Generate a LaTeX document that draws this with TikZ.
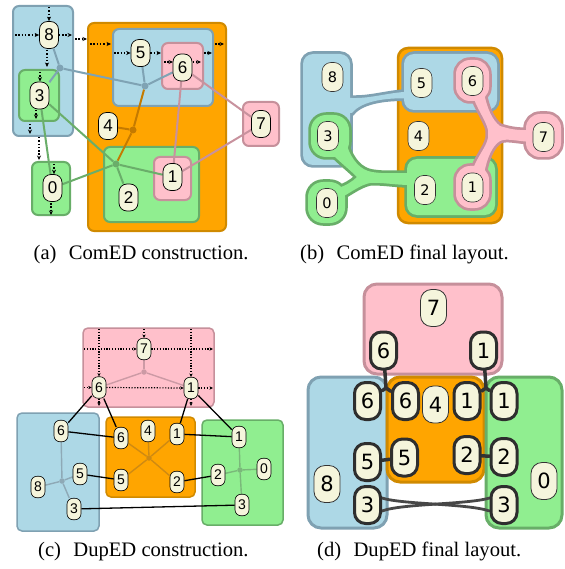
\documentclass[tikz,border=0pt]{standalone}
\usepackage{fontspec}
\setmainfont{Liberation Serif}
\newfontfamily\labelsans{Liberation Sans}
\newfontfamily\labeldeja{DejaVu Sans}
\usetikzlibrary{arrows.meta}
\pgfdeclarelayer{boxes}
\pgfdeclarelayer{links}
\pgfsetlayers{boxes,links,main}

\definecolor{nodefill}{HTML}{F5F5DC}
\definecolor{cBlue}{HTML}{ADD8E6}
\definecolor{cBlueS}{HTML}{7FA1B2}
\definecolor{cGreen}{HTML}{90EE90}
\definecolor{cGreenS}{HTML}{68AE68}
\definecolor{cPink}{HTML}{FFC0CB}
\definecolor{cPinkS}{HTML}{C6909B}
\definecolor{cOrange}{HTML}{FFA500}
\definecolor{cOrangeS}{HTML}{D08A00}
\definecolor{eBlue}{HTML}{7FA3B4}
\definecolor{eGreen}{HTML}{6AAE6A}
\definecolor{eOrange}{HTML}{C47A00}
\definecolor{ePink}{HTML}{C8929E}
\definecolor{eBlueC}{HTML}{8EA9B6}
\definecolor{eGreenC}{HTML}{7AB87A}
\definecolor{eOrangeC}{HTML}{CF8A12}
\definecolor{ePinkC}{HTML}{CC9AA5}

% (b): outlines of a group are drawn first, then the fills, so touching shapes merge
\newcommand\shapesBlue[1]{%
  \path[#1, rounded corners=10pt] (303,54) rectangle (350,165);
  \path[#1, rounded corners=10pt] (404,54) rectangle (497,110);
  \path[#1] (345,98) -- (352,98) .. controls (372,98.5) and (385,93) .. (410,91.5)
     -- (410,98.5) .. controls (390,97.5) and (362,100) .. (352,113) -- (345,113) -- cycle;
}
\newcommand\shapesGreen[1]{%
  \path[#1, rounded corners=10pt] (407,159) rectangle (495,215);
  \path[#1, rounded corners=15pt] (311,115) rectangle (349,157);
  \path[#1, rounded corners=15pt] (308,182) rectangle (345,223);
  \path[#1] (345,140) -- (347,146) .. controls (352,160) and (360,170) .. (372,172)
     .. controls (385,174) and (395,173) .. (410,173) -- (410,185)
     .. controls (395,185) and (380,182) .. (370,183)
     .. controls (360,185) and (350,193) .. (342,197) -- (338,188)
     .. controls (345,186) and (352,182) .. (357,177)
     .. controls (350,170) and (340,162) .. (333,155) -- cycle;
}
\newcommand\shapesPink[1]{%
  \path[#1, rounded corners=14pt] (456,60) rectangle (489,101);
  \path[#1, rounded corners=14pt] (456,166) rectangle (489,208);
  \path[#1, rounded corners=14pt] (526,114) rectangle (561,157);
  \path[#1] (472,93) .. controls (476,108) and (486,120) .. (488,130) -- (488,138)
     .. controls (486,148) and (476,158) .. (472,172) -- (484,174)
     .. controls (487,158) and (492,146) .. (500,141)
     .. controls (507,138) and (515,141) .. (532,142) -- (532,130)
     .. controls (515,131) and (507,128) .. (500,126)
     .. controls (492,120) and (487,108) .. (484,93) -- cycle;
}

\begin{document}
\begin{tikzpicture}[x=1pt,y=-1pt,line join=round,
  vtx/.style={draw=black, line width=0.7pt, fill=nodefill, inner sep=0pt},
  vA/.style={vtx, minimum width=19pt, minimum height=27pt, rounded corners=8pt, font=\labelsans\fontsize{17}{17}\selectfont},
  vB/.style={vtx, draw=black!80, line width=0.6pt, minimum width=21pt, minimum height=29pt, rounded corners=9pt, font=\labeldeja\fontsize{14.5}{14.5}\selectfont},
  vC/.style={vtx, line width=0.6pt, minimum width=14pt, minimum height=21.5pt, rounded corners=6pt, font=\labelsans\fontsize{14}{14}\selectfont},
  vD/.style={vtx, draw=black!80, line width=0.8pt, minimum width=26pt, minimum height=37pt, rounded corners=11pt, font=\labeldeja\fontsize{21}{21}\selectfont},
  hl/.style={draw=black!82, line width=3pt},
  boxA/.style={line width=2pt, rounded corners=6pt},
  boxC/.style={line width=1.5pt, rounded corners=5pt},
  boxD/.style={line width=3pt, rounded corners=13pt},
  ordA/.style={line width=1.5pt, dash pattern=on 1.5pt off 1.8pt, -{Stealth[length=4.5pt,width=4pt]}},
  ordC/.style={line width=1.2pt, dash pattern=on 1.2pt off 1.6pt, -{Stealth[length=3.5pt,width=3.2pt]}},
  linkA/.style={line width=2pt},
  linkC/.style={line width=1.4pt},
  junc/.style={circle, inner sep=0pt, minimum size=7pt},
  juncC/.style={circle, inner sep=0pt, minimum size=5.5pt},
  dup/.style={line width=1.3pt, draw=black},
  bridgeD/.style={line width=3.5pt, draw=black!80, line cap=round},
  capt/.style={font=\fontsize{20.6}{20.6}\selectfont, inner sep=0pt, anchor=base west},
]
\useasboundingbox (0,0) rectangle (564,569);
\begin{pgfonlayer}{boxes}
  \fill[white] (0,0) rectangle (564,569);
\end{pgfonlayer}

% ================= (a) ComED construction =================
\begin{pgfonlayer}{boxes}
  \draw[boxA, fill=cBlue, draw=cBlueS] (13,6) rectangle (73,136);
  \draw[boxA, fill=cGreen, draw=cGreenS] (19,70) rectangle (59,121);
  \draw[boxA, fill=cGreen, draw=cGreenS] (32,162) rectangle (70,215);
  \draw[boxA, fill=cOrange, draw=cOrangeS] (88,23) rectangle (226,231);
  \draw[boxA, fill=cBlue, draw=cBlueS] (113,29) rectangle (213,106);
  \draw[boxA, fill=cPink, draw=cPinkS] (162,43) rectangle (203,89);
  \draw[boxA, fill=cGreen, draw=cGreenS] (104,147) rectangle (199,222);
  \draw[boxA, fill=cPink, draw=cPinkS] (154,157) rectangle (191,200);
  \draw[boxA, fill=cPink, draw=cPinkS] (243,102) rectangle (279,146);
\end{pgfonlayer}

\node[vA] (a8) at (49,35) {8};
\node[vA] (a3) at (39.5,95.5) {3};
\node[vA] (a0) at (52.5,188) {0};
\node[vA] (a5) at (140.5,53) {5};
\node[vA] (a6) at (182.5,67.5) {6};
\node[vA] (a4) at (108,126) {4};
\node[vA] (a7) at (261,124) {7};
\node[vA] (a1) at (172.5,177) {1};
\node[vA] (a2) at (128.5,197.5) {2};

\node[junc, fill=eBlue] (ab1) at (60,68) {};
\node[junc, fill=eBlue] (ab2) at (145,86) {};
\node[junc, fill=eOrange] (ao) at (133,130) {};
\node[junc, fill=eGreen] (ag) at (116,164) {};

\begin{pgfonlayer}{links}
  \draw[linkA, eBlue] (a8) -- (ab1) -- (a3);
  \draw[linkA, eBlue] (ab1) -- (ab2);
  \draw[linkA, eBlue] (ab2) -- (a5);
  \draw[linkA, eBlue] (ab2) -- (a6);
  \draw[linkA, eOrange] (ab2) -- (ao) -- (ag);
  \draw[linkA, eOrange] (ao) -- (a4);
  \draw[linkA, eGreen] (ag) -- (a3);
  \draw[linkA, eGreen] (ag) -- (a0);
  \draw[linkA, eGreen] (ag) -- (a1);
  \draw[linkA, eGreen] (ag) -- (a2);
  \draw[linkA, eGreen] (a3) -- (a0);
  \draw[linkA, ePink] (a6) -- (a1);
  \draw[linkA, ePink] (a6) -- (a7);
  \draw[linkA, ePink] (a1) -- (a7);
\end{pgfonlayer}

% ordering constraints
\draw[ordA] (49,7) -- (a8.north);
\draw[ordA] (15,35) -- (a8.west);
\draw[ordA] (a8.east) -- (72,35);
\draw[ordA] (75,39) -- (87,39);
\draw[ordA] (90,44) -- (111,44);
\draw[ordA] (114,53) -- (a5.west);
\draw[ordA] (a5.east) -- (161,53);
\draw[ordA] (164,62) -- (173,62);
\draw[ordA] (192.5,62) -- (201,62);
\draw[ordA] (204,53) -- (212,53);
\draw[ordA] (215,44) -- (224,44);
\draw[ordA] (47,50) -- (47,67);
\draw[ordA] (40,72) -- (40,81.5);
\draw[ordA] (36,110) -- (36,119);
\draw[ordA] (30,124) -- (30,134);
\draw[ordA] (39,137) -- (39,160);
\draw[ordA] (54,164) -- (a0.north -| 54,0);
\draw[ordA] (51,203) -- (51,215);

% ================= (b) ComED final layout =================
\begin{pgfonlayer}{boxes}
  \draw[line width=2.5pt, draw=cOrangeS, fill=cOrange, rounded corners=10pt] (398,48) rectangle (502,223);
  \shapesBlue{draw=cBlueS, line width=5.5pt}
  \shapesBlue{fill=cBlue}
  \shapesGreen{draw=cGreenS, line width=5.5pt}
  \shapesGreen{fill=cGreen}
  \shapesPink{draw=cPinkS, line width=5.5pt}
  \shapesPink{fill=cPink}
\end{pgfonlayer}

\node[vB] (b8) at (332.5,77) {8};
\node[vB] (b3) at (328,136) {3};
\node[vB] (b0) at (327,203) {0};
\node[vB] (b5) at (421.5,83) {5};
\node[vB] (b6) at (472.5,81) {6};
\node[vB] (b4) at (418.5,136) {4};
\node[vB] (b2) at (425,190) {2};
\node[vB] (b1) at (472.5,187.5) {1};
\node[vB] (b7) at (543.5,137) {7};

% ================= (c) DupED construction =================
\begin{pgfonlayer}{boxes}
  \draw[boxC, fill=cPink, draw=cPinkS] (83,328) rectangle (214,407);
  \draw[boxC, fill=cBlue, draw=cBlueS] (17,413) rectangle (99,531);
  \draw[boxC, fill=cOrange, draw=cOrangeS] (106,417) rectangle (195,497);
  \draw[boxC, fill=cGreen, draw=cGreenS] (202,420) rectangle (283,525);
\end{pgfonlayer}

\node[vC] (cp7) at (144,349) {7};
\node[vC] (cp6) at (99,387.5) {6};
\node[vC] (cp1) at (191,388) {1};
\node[vC] (cb6) at (61,431) {6};
\node[vC] (cb5) at (80,474) {5};
\node[vC] (cb8) at (38,487) {8};
\node[vC] (cb3) at (74,509) {3};
\node[vC] (co6) at (121,438) {6};
\node[vC] (co4) at (148,431) {4};
\node[vC] (co1) at (177,434) {1};
\node[vC] (co5) at (121,480) {5};
\node[vC] (co2) at (177,482) {2};
\node[vC] (cg1) at (239,437) {1};
\node[vC] (cg0) at (264,469) {0};
\node[vC] (cg2) at (218,475) {2};
\node[vC] (cg3) at (242,505) {3};

\node[juncC, fill=ePinkC] (cpj) at (144,372) {};
\node[juncC, fill=eBlueC] (cbj) at (62,481) {};
\node[juncC, fill=eOrangeC] (coj) at (149,458) {};
\node[juncC, fill=eGreenC] (cgj) at (240,470) {};

\begin{pgfonlayer}{links}
  \foreach \n in {cp7,cp6,cp1} \draw[linkC, ePinkC] (cpj) -- (\n);
  \foreach \n in {cb6,cb5,cb8,cb3} \draw[linkC, eBlueC] (cbj) -- (\n);
  \foreach \n in {co6,co4,co1,co5,co2} \draw[linkC, eOrangeC] (coj) -- (\n);
  \foreach \n in {cg1,cg0,cg2,cg3} \draw[linkC, eGreenC] (cgj) -- (\n);
  \draw[dup] (cp6) -- (cb6);
  \draw[dup] (cp6) -- (co6);
  \draw[dup] (cp1) -- (co1);
  \draw[dup] (cp1) -- (cg1);
  \draw[dup] (cb6) -- (co6);
  \draw[dup] (co1) -- (cg1);
  \draw[dup] (cb5) -- (co5);
  \draw[dup] (co2) -- (cg2);
  \draw[dup] (cb3) -- (cg3);
\end{pgfonlayer}

\draw[ordC] (99,329) -- (cp6.north);
\draw[ordC] (144,329) -- (cp7.north);
\draw[ordC] (191,329) -- (cp1.north);
\draw[ordC] (84,349) -- (cp7.west);
\draw[ordC] (cp7.east) -- (213,349);
\draw[ordC] (84,387.5) -- (cp6.west);
\draw[ordC] (cp6.east) -- (cp1.west);
\draw[ordC] (cp1.east) -- (213,388);
\draw[ordC] (cp6.south) -- (99,406);
\draw[ordC] (cp1.south) -- (191,406);

% ================= (d) DupED final layout =================
\begin{pgfonlayer}{boxes}
  \draw[boxD, fill=cPink, draw=cPinkS] (364,284) rectangle (502,374);
  \draw[boxD, fill=cBlue, draw=cBlueS] (308,377) rectangle (387,528);
  \draw[boxD, fill=cOrange, draw=cOrangeS] (387,377) rectangle (484,482);
  \draw[boxD, fill=cGreen, draw=cGreenS] (486,377) rectangle (562,528);
\end{pgfonlayer}

\node[vD] (dp7) at (433.5,308) {7};
\node[vD, hl] (dp6) at (383.5,350.5) {6};
\node[vD, hl] (dp1) at (483.5,350.5) {1};
\node[vD, hl] (db6) at (367.5,401) {6};
\node[vD, hl] (do6) at (405.5,401) {6};
\node[vD] (d4) at (435.5,404.5) {4};
\node[vD, hl] (do1) at (467,401) {1};
\node[vD, hl] (dg1) at (504,401) {1};
\node[vD, hl] (db5) at (367.5,462) {5};
\node[vD, hl] (do5) at (404.5,457.5) {5};
\node[vD, hl] (do2) at (467,455) {2};
\node[vD, hl] (dg2) at (504,457) {2};
\node[vD] (db8) at (327,484) {8};
\node[vD] (dg0) at (544,481) {0};
\node[vD, hl] (db3) at (367.5,505) {3};
\node[vD, hl] (dg3) at (504,505) {3};
\coordinate (dj1) at (386,388);
\coordinate (dj2) at (486,388);

\begin{pgfonlayer}{links}
  \draw[bridgeD] (dp6) -- (dj1);
  \draw[bridgeD] (dj1) -- (db6);
  \draw[bridgeD] (dj1) -- (do6);
  \draw[bridgeD] (dp1) -- (dj2);
  \draw[bridgeD] (dj2) -- (do1);
  \draw[bridgeD] (dj2) -- (dg1);
  \draw[bridgeD] (db5) -- (do5);
  \draw[bridgeD] (do2) -- (dg2);
  % bundled pair of links between the two copies of 3
  \draw[bridgeD, line width=2.8pt, draw=black!72] ([yshift=7pt]db3.east) .. controls (402,504.5) and (468,503.5) .. ([yshift=-6pt]dg3.west);
  \draw[bridgeD, line width=2.8pt, draw=black!72] ([yshift=-6pt]db3.east) .. controls (402,503.5) and (468,504.5) .. ([yshift=7pt]dg3.west);
\end{pgfonlayer}

% ================= captions =================
\node[capt] (capA) at (33.5,259) {(a)\hspace{0.6em}ComED construction.};
\node[capt] (capB) at (300,259) {(b)\hspace{0.6em}ComED final layout.};
\node[capt] (capC) at (38,556) {(c)\hspace{0.6em}DupED construction.};
\node[capt] (capD) at (317,556) {(d)\hspace{0.6em}DupED final layout.};
\end{tikzpicture}
\end{document}
